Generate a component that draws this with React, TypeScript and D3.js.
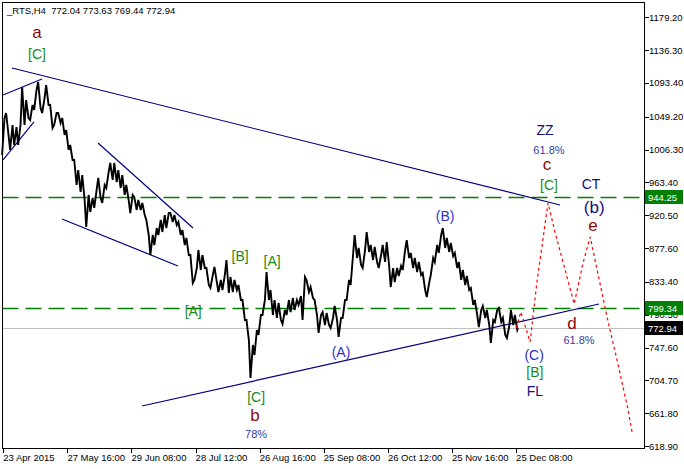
import React from 'react';
import * as d3 from 'd3';

const W = 684;
const H = 469;

const symbolTitle = '_RTS,H4  772.04 773.63 769.44 772.94';
const priceTicks = [1179.2, 1136.3, 1093.4, 1049.2, 1006.3, 963.4, 920.5, 877.6, 833.4, 790.5, 747.6, 704.7, 661.8, 618.9];
const timeLabels = ['23 Apr 2015', '27 May 16:00', '29 Jun 08:00', '28 Jul 12:00', '26 Aug 16:00', '25 Sep 08:00', '26 Oct 12:00', '25 Nov 16:00', '25 Dec 08:00'];
const timeLabelStep = 16;

const highs = [
  1047.6, 1054.1, 1038.4, 1035.8, 1038.4, 1088.1, 1071.1, 1064.6, 1084.2, 1094.6,
  1073.7, 1090.7, 1064.6, 1054.1, 1054.1, 1047.6, 1031.9, 1012.3, 992.7, 979.6,
  973.1, 947.0, 943.0, 953.5, 969.2, 960.0, 977.0, 988.8, 988.8, 979.6,
  973.1, 960.0, 947.0, 944.3, 940.4, 936.5, 914.3, 894.7, 903.8, 914.3,
  920.8, 923.4, 923.4, 920.8, 911.7, 901.2, 890.8, 868.5, 851.5, 875.1,
  868.5, 851.5, 842.4, 852.9, 835.9, 842.4, 862.0, 839.8, 835.9, 829.3,
  809.7, 783.6, 750.9, 770.5, 790.1, 809.7, 846.3, 822.8, 809.7, 805.8,
  796.7, 809.7, 812.3, 809.7, 815.0, 839.8, 835.9, 826.7, 809.7, 790.1,
  794.0, 792.7, 786.2, 801.9, 786.2, 809.7, 835.9, 868.5, 894.7, 877.7,
  875.1, 898.6, 881.6, 879.0, 868.5, 881.6, 885.5, 851.5, 851.5, 854.2,
  875.1, 888.1, 871.2, 864.6, 859.4, 845.0, 831.9, 864.6, 881.6, 894.7,
  903.8, 890.8, 884.2, 871.2, 859.4, 848.9, 841.1, 825.4, 809.7, 796.7,
  801.9, 796.7, 783.6, 796.7, 799.3, 786.2, 775.7, 796.7, 790.1,
];
const lows = [
  999.2, 1025.4, 1005.8, 1012.3, 1012.3, 1038.4, 1047.6, 1045.0, 1058.1, 1060.7,
  1054.1, 1064.6, 1034.5, 1038.4, 1041.1, 1025.4, 1005.8, 992.7, 960.0, 950.9,
  940.4, 905.1, 924.7, 930.0, 943.0, 936.5, 956.1, 966.6, 963.9, 956.1,
  947.0, 940.4, 923.4, 927.4, 927.4, 920.8, 894.7, 868.5, 881.6, 894.7,
  898.6, 903.8, 911.7, 907.7, 894.7, 881.6, 868.5, 831.9, 835.9, 848.9,
  851.5, 829.3, 825.4, 833.2, 820.2, 822.8, 818.9, 820.2, 822.8, 809.7,
  783.6, 757.4, 707.8, 737.8, 764.0, 790.1, 809.7, 790.1, 786.2, 783.6,
  778.4, 790.1, 794.0, 796.7, 803.2, 783.6, 820.2, 812.3, 790.1, 766.6,
  777.0, 777.0, 773.1, 783.6, 761.4, 786.2, 809.7, 829.3, 864.6, 855.5,
  851.5, 872.5, 862.0, 859.4, 851.5, 859.4, 855.5, 826.7, 833.2, 841.1,
  848.9, 864.6, 851.5, 846.3, 842.4, 822.8, 813.6, 842.4, 859.4, 871.2,
  877.7, 872.5, 867.2, 851.5, 835.9, 829.3, 822.8, 803.2, 790.1, 774.4,
  786.2, 777.0, 753.5, 781.0, 781.0, 764.0, 760.1, 777.0, 770.5,
];
const lastClose = 772.94;
const levels = [944.25, 799.34];

// forecast path (bar index, price)
const forecastIdx = [128, 129.2, 131.5, 133.2, 135.97, 137.7, 139.7, 142.5, 144.7, 146.5, 148.5, 150.7, 153.2, 155.8, 157.0];
const forecastPrice = [772.94, 794.0, 754.8, 833.2, 936.5, 898.6, 859.4, 804.5, 858.1, 892.1, 842.4, 787.5, 731.3, 669.9, 635.9];

// trend lines [idx1, price1, idx2, price2]
const trendLines = [
  [2.17, 1112.9, 138.97, 933.9],
  [-0.07, 1077.7, 9.66, 1098.6],
  [-0.07, 992.7, 7.66, 1042.4],
  [23.64, 1014.9, 47.35, 903.8],
  [14.65, 915.6, 43.6, 854.2],
  [34.62, 671.2, 148.7, 804.5],
];

// wave labels: text, idx, price, kind
const waveLabels: [string, number, number, string][] = [
  ['a', 8.41, 1152.2, 'minor'],
  ['[C]', 8.41, 1124.7, 'inter'],
  ['[B]', 59.1, 860.7, 'inter'],
  ['[A]', 67.1, 854.2, 'inter'],
  ['[A]', 47.4, 788.8, 'inter'],
  ['(A)', 84.3, 735.2, 'minute'],
  ['(B)', 110.3, 913.0, 'minute'],
  ['ZZ', 135.2, 1025.4, 'pattern'],
  ['61.8%', 136.2, 1000.5, 'pct'],
  ['c', 135.7, 979.6, 'minor'],
  ['[C]', 136.2, 953.5, 'inter'],
  ['CT', 146.7, 954.8, 'pattern'],
  ['(b)', 147.5, 924.0, 'big'],
  ['e', 147.2, 899.5, 'minor'],
  ['d', 141.96, 771.8, 'minor'],
  ['61.8%', 143.7, 752.2, 'pct'],
  ['(C)', 132.5, 731.3, 'minute'],
  ['[B]', 132.7, 709.1, 'inter'],
  ['FL', 132.7, 684.3, 'pattern'],
  ['[C]', 63.1, 676.4, 'inter'],
  ['b', 62.8, 651.6, 'minor'],
  ['78%', 63.1, 629.4, 'pct'],
];

const labelStyle: Record<string, { size: number; color: string }> = {
  minor: { size: 17, color: '#8b0a0a' },
  inter: { size: 14, color: '#1a8a1a' },
  minute: { size: 14, color: '#3030c8' },
  pattern: { size: 14, color: '#101080' },
  pct: { size: 11, color: '#3a3a9a' },
  big: { size: 17, color: '#101080' },
};

const FONT = '"Liberation Sans", Arial, sans-serif';

export default function App() {
  const left = 2.5, right = 644.5, top = 2.5, bottom = 448.5;
  const x = d3.scaleLinear().domain([0, 160]).range([3.3, 644.3]);
  const y = d3.scaleLinear().domain([618.9, 1179.2]).range([446, 17.3]);

  const pts: [number, number][] = [];
  for (let i = 0; i < highs.length; i++) {
    const xi = x(i);
    const mid = (highs[i] + lows[i]) / 2;
    const nextMid = i + 1 < highs.length ? (highs[i + 1] + lows[i + 1]) / 2 : lastClose;
    if (nextMid > mid) {
      pts.push([xi - 1.2, y(lows[i])]);
      pts.push([xi + 1.2, y(highs[i])]);
    } else {
      pts.push([xi - 1.2, y(highs[i])]);
      pts.push([xi + 1.2, y(lows[i])]);
    }
  }
  pts.push([x(highs.length - 1) + 2, y(lastClose)]);
  const priceLine = d3.line()(pts) || '';

  const fc = d3.line<number>().x((d, i) => x(forecastIdx[i])).y((d) => y(d))(forecastPrice) || '';

  const timeIdx = timeLabels.map((_, k) => k * timeLabelStep);

  return (
    <svg width={W} height={H} style={{ position: 'absolute', left: 0, top: 0, background: '#fff' }} fontFamily={FONT}>
      <rect x={0} y={0} width={W} height={H} fill="#fff" />
      {/* current price line */}
      <line x1={left} x2={right} y1={Math.round(y(lastClose)) + 0.5} y2={Math.round(y(lastClose)) + 0.5} stroke="#c0c0c0" strokeWidth={1} />
      {/* level lines */}
      {levels.map((lv) => (
        <line key={lv} x1={left} x2={right} y1={Math.round(y(lv)) + 0.5} y2={Math.round(y(lv)) + 0.5} stroke="#008000" strokeWidth={1.3} strokeDasharray="16,7" />
      ))}
      {/* trend lines */}
      {trendLines.map((t, k) => (
        <line key={k} x1={x(t[0])} y1={y(t[1])} x2={x(t[2])} y2={y(t[3])} stroke="#000080" strokeWidth={1.2} />
      ))}
      {/* price */}
      <path d={priceLine} fill="none" stroke="#000" strokeWidth={1.9} strokeLinejoin="miter" />
      {/* forecast */}
      <path d={fc} fill="none" stroke="#ff0000" strokeWidth={1.2} strokeDasharray="3,3" />
      {/* labels */}
      {waveLabels.map(([t, i, p, kind], k) => (
        <text key={k} x={x(i)} y={y(p)} textAnchor="middle" fontSize={labelStyle[kind].size} fill={labelStyle[kind].color}>
          {t}
        </text>
      ))}
      {/* frame */}
      <rect x={left} y={top} width={right - left} height={bottom - top} fill="none" stroke="#000" strokeWidth={1} shapeRendering="crispEdges" />
      {/* price axis */}
      {priceTicks.map((p) => (
        <g key={p}>
          <line x1={right} x2={right + 4} y1={Math.round(y(p)) + 0.5} y2={Math.round(y(p)) + 0.5} stroke="#000" shapeRendering="crispEdges" />
          <text x={649} y={y(p) + 3.5} fontSize={9.5} fill="#000">{p.toFixed(2)}</text>
        </g>
      ))}
      {/* time axis */}
      {timeIdx.map((ti, k) => (
        <g key={k}>
          <line x1={Math.round(x(ti)) + 0.5} x2={Math.round(x(ti)) + 0.5} y1={bottom} y2={bottom + 4} stroke="#000" shapeRendering="crispEdges" />
          <text x={x(ti)} y={461} fontSize={9.5} fill="#000">{timeLabels[k]}</text>
        </g>
      ))}
      {/* level boxes */}
      {levels.map((lv) => (
        <g key={'b' + lv}>
          <rect x={645} y={Math.round(y(lv)) - 7} width={38} height={14} fill="#008000" />
          <text x={648} y={Math.round(y(lv)) + 4} fontSize={9.5} fill="#fff">{lv.toFixed(2)}</text>
        </g>
      ))}
      <g>
        <rect x={645} y={Math.round(y(lastClose)) - 7} width={38} height={14} fill="#000" />
        <text x={648} y={Math.round(y(lastClose)) + 4} fontSize={9.5} fill="#fff">{lastClose.toFixed(2)}</text>
      </g>
      {/* title */}
      <text x={7} y={14} fontSize={9.5} fill="#000" style={{ whiteSpace: 'pre' }}>{symbolTitle}</text>
    </svg>
  );
}
